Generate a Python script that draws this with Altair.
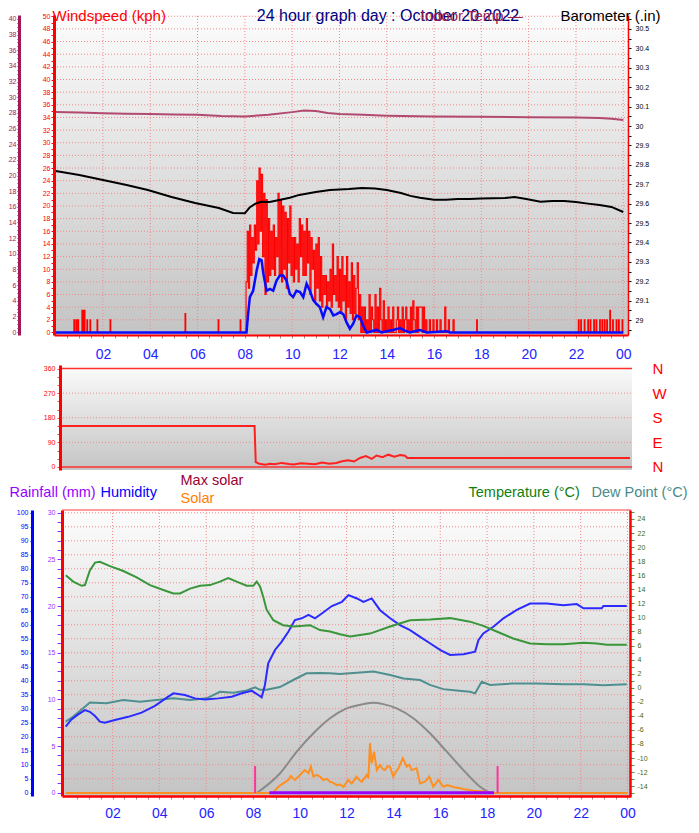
import altair as alt
import pandas as pd

W, H = 683, 815
FONT = "Liberation Sans"

# ---------------- values (hour of day, value) ----------------
baro = [(0, 29.768), (1, 29.747), (2, 29.722), (3, 29.696), (3.9, 29.670), (4.9, 29.634),
        (5.9, 29.603), (6.9, 29.577), (7.5, 29.552), (8.0, 29.55), (8.2, 29.58), (8.45, 29.60),
        (8.7, 29.61), (9.05, 29.608), (9.5, 29.62), (9.9, 29.63), (10.3, 29.645), (11, 29.66),
        (11.6, 29.67), (12.4, 29.675), (12.95, 29.68), (13.5, 29.678), (14, 29.67), (14.6, 29.655),
        (15, 29.64), (15.4, 29.63), (16, 29.62), (16.5, 29.62), (17, 29.624), (17.5, 29.624),
        (18, 29.626), (19, 29.629), (19.4, 29.634), (19.9, 29.624), (20.5, 29.61), (21, 29.613),
        (21.5, 29.613), (22, 29.608), (22.5, 29.60), (23, 29.593), (23.5, 29.583), (24, 29.557)]

indoor = [(0, 28.1), (1, 28.05), (2, 27.95), (3, 27.9), (4, 27.85), (5, 27.8), (6, 27.75),
          (7, 27.6), (8, 27.55), (9, 27.75), (10, 28.1), (10.5, 28.3), (11, 28.25), (11.5, 28.0),
          (12, 27.85), (13, 27.75), (14, 27.65), (16, 27.55), (18, 27.5), (20, 27.45), (22, 27.4),
          (23, 27.35), (23.5, 27.25), (24, 27.1)]

wind_avg = [(0, 0), (8.07, 0), (8.14, 3.0), (8.21, 5.6), (8.35, 6.6), (8.5, 9.8), (8.61, 11.6),
            (8.71, 11.4), (8.78, 9.3), (8.92, 6.6), (9.06, 6.9), (9.2, 6.6), (9.34, 8.2), (9.48, 9.0),
            (9.62, 9.0), (9.76, 8.2), (9.9, 6.1), (10.04, 5.6), (10.18, 6.6), (10.33, 6.4), (10.47, 5.6),
            (10.61, 7.7), (10.75, 6.6), (10.89, 5.1), (11.03, 4.5), (11.17, 4.0), (11.31, 2.4),
            (11.45, 4.0), (11.6, 3.7), (11.74, 2.7), (11.88, 2.9), (12.02, 3.2), (12.16, 2.9),
            (12.3, 1.6), (12.44, 0.6), (12.58, 1.4), (12.72, 2.7), (12.87, 2.4), (13.0, 1.1),
            (13.15, 0), (13.57, 0.4), (13.78, 0), (13.99, 0.2), (14.27, 0.4), (14.56, 0.7),
            (14.77, 0.3), (14.98, 0), (15.4, 0.4), (15.68, 0), (16.53, 0.2), (16.67, 0), (24, 0)]

gust_spikes_early = [(0.77, 2), (0.86, 2), (0.94, 2), (1.11, 3.5), (1.16, 3.5), (1.21, 3.5),
                     (1.32, 2), (1.45, 2), (1.75, 2), (2.3, 2), (5.47, 3), (6.87, 2), (7.8, 2)]
# gusts every 3 minutes from 08:03
gust_burst = [8, 16, 7, 17, 9, 15, 11, 17, 13, 24,
              14, 26, 16, 25, 12, 22, 6, 21, 8, 18,
              9, 16, 10, 17, 9, 15, 12, 22, 9, 21,
              8, 20, 10, 19, 7, 18, 11, 20, 9, 15,
              8, 15, 10, 14, 8, 18, 12, 17, 9, 16,
              9, 18, 11, 16, 6, 15, 10, 13, 5, 14,
              7, 15, 5, 12, 4, 9, 6, 9, 4, 8,
              5, 10, 4, 14, 6, 9, 5, 12, 4, 10,
              3, 12, 5, 9, 2, 12, 4, 8, 3, 11,
              2, 9, 3, 7, 11, 2, 6, 0, 4, 0,
              4, 0, 2, 0, 6, 0, 4, 2, 0, 6,
              0, 4, 0, 7, 2, 0, 5, 0, 2, 0,
              4, 0, 2, 0, 4, 0, 0, 2, 4, 0,
              2, 0, 4, 0, 2, 4, 0, 2, 0, 4,
              0, 5, 2, 0, 4, 0, 4, 4, 4, 0,
              4, 0, 2, 0, 0, 2, 0, 0, 2, 0,
              0, 2, 0, 0, 2, 0, 0, 0, 4, 0,
              0, 2, 0, 0, 0, 2, 0, 0, 0, 0]
gust_burst_start, gust_burst_step = 8.05, 0.05
gust_spikes_late = [(17.8, 2), (22.1, 2), (22.2, 2), (22.35, 2), (22.5, 2), (22.6, 2), (22.75, 2),
                    (22.85, 2), (23.0, 2), (23.1, 2), (23.2, 2), (23.3, 2), (23.43, 3.5), (23.55, 2),
                    (23.7, 2), (23.8, 2), (23.95, 2)]

wind_dir = [(0, 150), (8.15, 150), (8.2, 18), (8.35, 12), (8.6, 8), (8.8, 12), (9.0, 10), (9.3, 15),
            (9.6, 11), (9.8, 9), (10.1, 14), (10.4, 12), (10.7, 10), (11.0, 16), (11.3, 12),
            (11.6, 15), (11.85, 21), (12.1, 25), (12.35, 20), (12.6, 33), (12.85, 40), (13.1, 30),
            (13.3, 42), (13.55, 36), (13.8, 45), (14.05, 38), (14.3, 44), (14.5, 41), (14.6, 33),
            (24, 33)]

temperature = [(0, 16.0), (0.32, 15.1), (0.68, 14.5), (0.82, 14.6), (1.03, 16.7), (1.25, 17.8),
               (1.46, 17.9), (1.89, 17.3), (2.46, 16.6), (3.03, 15.7), (3.6, 14.6), (4.17, 13.9),
               (4.6, 13.4), (4.88, 13.4), (5.31, 14.1), (5.74, 14.5), (6.16, 14.6), (6.59, 15.1),
               (6.94, 15.6), (7.3, 15.1), (7.73, 14.5), (8.01, 14.5), (8.16, 15.1), (8.3, 14.4),
               (8.44, 12.9), (8.58, 11.1), (8.87, 9.6), (9.29, 8.9), (9.72, 8.7), (10.15, 8.8),
               (10.44, 8.9), (10.86, 8.2), (11.29, 8.0), (11.72, 7.6), (12.15, 7.3), (13.0, 7.7),
               (13.86, 8.7), (14.71, 9.6), (15.56, 9.7), (16.42, 9.9), (17.27, 9.4), (17.84, 8.8),
               (18.41, 8.0), (19.12, 7.0), (19.84, 6.3), (20.55, 6.2), (21.26, 6.2), (22.12, 6.4),
               (22.69, 6.3), (23.12, 6.1), (23.97, 6.1)]

dew_point = [(0, -4.8), (0.32, -4.1), (0.82, -2.7), (1.03, -2.1), (1.74, -2.2), (2.46, -1.75),
             (3.17, -2.0), (3.88, -1.75), (4.6, -1.5), (5.31, -1.75), (6.02, -1.5), (6.59, -0.57),
             (7.16, -0.7), (7.73, -0.4), (8.09, 0.05), (8.3, -0.3), (8.58, -0.3), (9.15, 0.1),
             (9.72, 1.1), (10.29, 2.05), (10.86, 2.1), (11.29, 2.05), (11.72, 1.95), (12.15, 2.05),
             (13.15, 2.3), (13.86, 1.8), (14.43, 1.3), (15.14, 1.1), (15.56, 0.4), (16.13, -0.2),
             (16.7, -0.4), (17.27, -0.57), (17.49, -0.8), (17.77, 0.85), (18.13, 0.4), (19.12, 0.6),
             (20.12, 0.6), (21.26, 0.5), (22.12, 0.5), (22.97, 0.35), (23.97, 0.5)]

humidity = [(0, 23.6), (0.22, 26), (0.5, 27.8), (0.82, 29.5), (1.03, 28.9), (1.25, 27.4), (1.46, 25.4),
            (1.67, 25), (2.1, 26), (2.67, 27.1), (3.24, 28.6), (3.81, 31), (4.38, 34.3), (4.6, 35.5),
            (5.09, 34.9), (5.52, 33.7), (5.95, 33.3), (6.52, 33.7), (7.09, 34.3), (7.52, 35.5),
            (7.95, 36.4), (8.23, 34.9), (8.37, 34.1), (8.51, 38.5), (8.65, 46.2), (8.94, 51),
            (9.22, 53.9), (9.51, 57.5), (9.79, 61.7), (10.08, 62.3), (10.37, 63.5), (10.65, 62.3),
            (10.94, 64), (11.37, 66.7), (11.8, 68.2), (12.08, 70.6), (12.44, 69.4), (12.72, 68.2),
            (13.07, 69.4), (13.43, 65.2), (13.86, 62.3), (14.28, 59.9), (14.71, 58.1), (15.14, 55.7),
            (15.56, 53.4), (15.99, 51), (16.42, 49.2), (16.99, 49.5), (17.49, 50.4), (17.63, 54.5),
            (17.84, 56.9), (18.27, 59.3), (18.7, 62.3), (19.27, 65.3), (19.84, 67.6), (20.55, 67.6),
            (21.26, 67), (21.83, 67.4), (22.12, 65.9), (22.9, 65.9), (22.97, 66.7), (23.97, 66.7)]

max_solar = [(8.16, 0), (9.15, 69), (9.87, 146), (10.58, 211), (11.29, 264), (12.0, 299),
             (12.71, 314), (13.14, 319), (13.57, 314), (14.14, 299), (14.85, 264), (15.56, 211),
             (16.28, 146), (16.99, 81), (17.7, 22), (18.13, 0)]

solar = [(0, 0), (8.44, 0), (8.87, 1), (9.08, 22), (9.29, 34), (9.51, 46), (9.61, 60), (9.79, 46),
         (9.94, 58), (10.08, 70), (10.22, 81), (10.37, 70), (10.47, 93), (10.58, 58), (10.72, 64),
         (10.86, 58), (11.0, 46), (11.15, 50), (11.29, 40), (11.45, 35), (11.58, 28), (11.72, 30),
         (11.86, 22), (12.07, 46), (12.22, 34), (12.43, 58), (12.55, 45), (12.65, 40), (12.86, 64),
         (12.93, 52), (13.0, 176), (13.07, 105), (13.17, 146), (13.29, 81), (13.43, 99), (13.54, 85),
         (13.64, 81), (13.75, 95), (13.85, 93), (14.0, 58), (14.1, 75), (14.21, 87), (14.4, 123),
         (14.57, 93), (14.68, 100), (14.78, 81), (14.99, 87), (15.14, 34), (15.35, 40), (15.53, 58),
         (15.7, 22), (15.92, 46), (16.13, 22), (16.3, 28), (16.42, 25), (16.6, 20), (16.85, 17),
         (17.1, 12), (17.42, 8), (17.84, 5), (18.2, 0), (24, 0)]

rainfall = [(8.7, 0), (18.3, 0)]
sun_events = [8.09, 18.45]          # sunrise / sunset markers
sun_marker_top = 95

hour_ticks = [i / 2 for i in range(1, 49)]
baro_ticks = [round(28.95 + 0.05 * i, 2) for i in range(33)]

# ---------------- build tables ----------------
def frame(pairs):
    return pd.DataFrame(list(pairs), columns=["t", "v"])

gust_rows = [(0.0, 0.0)]
for t, v in gust_spikes_early:
    gust_rows += [(t, v), (round(t + 0.03, 3), 0)]
for i, v in enumerate(gust_burst):
    gust_rows.append((round(gust_burst_start + gust_burst_step * i, 3), v))
gust_rows.append((round(gust_burst_start + gust_burst_step * len(gust_burst), 3), 0))
for t, v in gust_spikes_late:
    gust_rows += [(t, v), (round(t + 0.03, 3), 0)]
gust_rows.append((24.0, 0))
gust_df = frame(gust_rows)

# ---------------- scales (each panel has its own position range) ----------------
def lin(d0, d1, r0, r1):
    return alt.Scale(domain=[d0, d1], range=[r0, r1], nice=False, zero=False)

XT_D, XM_D, XB_D = (-0.07, 24.2), (-0.063, 24.084), (-0.16, 24.15)
YW_D, YD_D, YH_D = (-0.4, 50.2), (-11, 373), (-1.18, 101.0)
XT = lin(*XT_D, 46, 620)
XM = lin(*XM_D, 52, 624)
XB = lin(*XB_D, 54, 623)
YW = lin(*YW_D, 327, 7)
YP = lin(28.923, 30.572, 327, 7)
YI = lin(-0.38, 40.51, 327, 7)
YD = lin(*YD_D, 462, 357)
YR = lin(-0.354, 30.3, 788, 502)
YH = lin(*YH_D, 788, 502)
YT = lin(-15.4, 25.28, 788, 502)
YS = lin(-10.6, 1000, 788, 502)

GRAD = alt.Gradient(gradient="linear",
                    stops=[alt.GradientStop(color="#fcfcfc", offset=0),
                           alt.GradientStop(color="#e2e2e2", offset=0.45),
                           alt.GradientStop(color="#c4c4c4", offset=1)],
                    x1=0, x2=0, y1=0, y2=1)
GRID = dict(color="#f08a8a", strokeDash=[1, 2], strokeWidth=1)


def axis(orient, offset, **kw):
    base = dict(orient=orient, offset=offset, grid=False, zindex=2, labelOverlap=False,
                labelFlush=False, labelFont=FONT, labelFontSize=7, title=None)
    base.update(kw)
    return alt.Axis(**base)


def ttl(text, color, x, y, size=15, align="left"):
    return dict(title=text, titleX=x, titleY=y, titleAngle=0, titleAlign=align,
                titleBaseline="alphabetic", titleColor=color, titleFont=FONT,
                titleFontSize=size, titleFontWeight="normal")


HIDDEN = dict(labels=False, ticks=False, domain=False)
EVEN = "datum.value % 2 == 0 ? '' + datum.value : ''"
HOUR_LABEL = ("datum.value % 2 == 0 ? (datum.value % 24 < 10 ? '0' + (datum.value % 24) "
              ": '' + datum.value) : ''")

ax_top_x = axis("bottom", 327 - H, values=hour_ticks, labelExpr=HOUR_LABEL, labelColor="#2323ff",
                labelFontSize=14, labelPadding=9, tickSize=3, tickColor="#909090",
                domainColor="#ff0000", domainWidth=2,
                **ttl("24 hour graph day : October 20 2022", "#000080", 379.5, 12 - 327, 16, "center"))
ax_wind = axis("left", -46, values=list(range(0, 51)), labelExpr=EVEN, labelColor="#ff0000",
               labelPadding=1, tickSize=3, tickColor="#ff0000", domainColor="#ff0000", domainWidth=3,
               **ttl("Windspeed (kph)", "#ff0000", -2, 12))
ax_indoor = axis("left", -11, values=[i / 2 for i in range(0, 81)], labelExpr=EVEN,
                 labelColor="#a01a55", labelPadding=1, tickSize=2, tickColor="#a01a55",
                 domainColor="#a01a55", domainWidth=3,
                 **ttl("Indoor Temp \u2014", "#9c1f4f", 401, 12))
ax_baro = axis("right", 620 - W, values=baro_ticks,
               labelExpr="round(datum.value * 100) % 10 == 0 ? '' + round(datum.value * 10) / 10 : ''",
               labelColor="#000000", labelPadding=4, tickSize=3, tickColor="#000000",
               domainColor="#ff0000", domainWidth=1.5,
               **ttl("Barometer (.in)", "#000000", 552 - 620, 12))
ax_dir = axis("left", -52, values=list(range(0, 361, 30)),
              labelExpr="datum.value % 90 == 0 ? '' + datum.value : ''", labelColor="#ff0000",
              labelPadding=2, tickSize=3, tickColor="#ff4040", domainColor="#ff0000", domainWidth=3)
ax_compass = axis("right", 624 - W, values=[0, 90, 180, 270, 360],
                  labelExpr="['N','E','S','W','N'][round(datum.value / 90)]",
                  labelColor="#ff0000", labelFontSize=15, labelPadding=20, ticks=False, domain=False)
ax_hum = axis("left", -24, values=list(range(0, 101, 5)), labelExpr="'' + datum.value",
              labelColor="#0000ff", labelPadding=2, tickSize=2, tickColor="#0000ff",
              domainColor="#0000ff", domainWidth=3, **ttl("Humidity", "#0000ff", 68, 488, 14.5))
ax_rain = axis("left", -54, values=list(range(0, 31)),
               labelExpr="datum.value % 5 == 0 ? '' + datum.value : ''", labelColor="#9933ff",
               labelPadding=2, tickSize=5, tickColor="#9933ff", domainColor="#ff0000", domainWidth=3,
               **ttl("Rainfall (mm)", "#9900ff", -53, 488, 14.5))
ax_temp = axis("right", 622 - W, values=list(range(-15, 26)), labelExpr=EVEN, labelColor="#3a6a10",
               labelPadding=3, tickSize=4, tickColor="#40a040", domainColor="#ff0000",
               domainWidth=2.5, **ttl("Temperature (\u00b0C)", "#108010", -162, 488, 14.5))
ax_dew = axis("right", 622 - W, **HIDDEN, **ttl("Dew Point (\u00b0C)", "#4a8a8a", -39, 488, 14.5))
ax_maxsolar = axis("left", -54, **HIDDEN, **ttl("Max solar", "#990033", 118, 476, 14.5))
ax_solar = axis("left", -54, **HIDDEN, **ttl("Solar", "#ff8000", 118, 494, 14.5))
ax_bot_x = axis("bottom", 788 - H, values=hour_ticks, labelExpr=HOUR_LABEL, labelColor="#2323ff",
                labelFontSize=14, labelPadding=7, tickSize=3, tickColor="#909090",
                domainColor="#ff0000", domainWidth=2.5)


# ---------------- mark helpers ----------------
def X(scale, ax=None, field="t"):
    return alt.X(f"{field}:Q", scale=scale, axis=ax)


def Y(scale, ax=None, field="v"):
    return alt.Y(f"{field}:Q", scale=scale, axis=ax)


def background(xs, ys, xd, yd):
    df = pd.DataFrame({"x0": [xd[0]], "x1": [xd[1]], "y0": [yd[0]], "y1": [yd[1]]})
    return alt.Chart(df).mark_rect(fill=GRAD).encode(
        x=X(xs, field="x0"), x2="x1", y=Y(ys, field="y0"), y2="y1")


def hrules(xs, ys, values, xd, **style):
    df = pd.DataFrame({"v": values, "x0": xd[0], "x1": xd[1]})
    return alt.Chart(df).mark_rule(**style).encode(y=Y(ys), x=X(xs, field="x0"), x2="x1")


def vrules(xs, ys, values, yd, **style):
    df = pd.DataFrame({"t": values, "y0": yd[0], "y1": yd[1]})
    return alt.Chart(df).mark_rule(**style).encode(x=X(xs), y=Y(ys, field="y0"), y2="y1")


def line(data, xs, ys, xax=None, yax=None, **mark):
    df = data if isinstance(data, pd.DataFrame) else frame(data)
    return alt.Chart(df).mark_line(**mark).encode(x=X(xs, xax), y=Y(ys, yax))


sun_df = pd.DataFrame({"t": sun_events, "y0": 0, "y1": sun_marker_top})

layers = [
    # ---- top panel: wind, indoor temperature, barometer ----
    background(XT, YW, XT_D, YW_D),
    hrules(XT, YW, list(range(2, 51, 2)), XT_D, **GRID),
    vrules(XT, YW, list(range(2, 25, 2)), YW_D, **GRID),
    line(gust_df, XT, YW, ax_top_x, ax_wind, color="#ff0000", strokeWidth=1.1, interpolate="step-after"),
    line(wind_avg, XT, YW, color="#0a0aff", strokeWidth=2.5),
    line(indoor, XT, YI, None, ax_indoor, color="#b24a70", strokeWidth=2),
    line(baro, XT, YP, None, ax_baro, color="#000000", strokeWidth=2),
    # ---- middle panel: wind direction ----
    background(XM, YD, XM_D, YD_D),
    hrules(XM, YD, [90, 180, 270], XM_D, **GRID),
    hrules(XM, YD, [0, 360], XM_D, color="#ff3030", strokeWidth=1.5),
    line(wind_dir, XM, YD, None, ax_dir, color="#ff2020", strokeWidth=2),
    line(wind_dir, XM, YD, None, ax_compass, opacity=0),
    # ---- bottom panel ----
    background(XB, YH, XB_D, YH_D),
    hrules(XB, YH, list(range(5, 101, 5)), XB_D, **GRID),
    vrules(XB, YH, list(range(2, 25, 2)), YH_D, **GRID),
    hrules(XB, YH, [YH_D[1]], XB_D, color="#ff4040", strokeWidth=1),
    line(max_solar, XB, YS, None, ax_maxsolar, color="#8a8a8a", strokeWidth=2, interpolate="monotone"),
    line(solar, XB, YS, None, ax_solar, color="#ff9020", strokeWidth=2),
    alt.Chart(sun_df).mark_rule(color="#ff3399", strokeWidth=2).encode(
        x=X(XB), y=Y(YS, field="y0"), y2="y1"),
    line(rainfall, XB, YR, None, ax_rain, color="#9900ff", strokeWidth=3),
    line(dew_point, XB, YT, None, ax_dew, color="#4f8f8f", strokeWidth=2),
    line(humidity, XB, YH, None, ax_hum, color="#2b2bff", strokeWidth=2),
    line(temperature, XB, YT, ax_bot_x, ax_temp, color="#3a963a", strokeWidth=2),
]

chart = alt.layer(*layers).resolve_scale(x="independent", y="independent").properties(
    width=W, height=H, padding=0, background="white",
    autosize=alt.AutoSizeParams(type="none"),
).configure_view(stroke=None)

chart.save("out.html", embed_options={"renderer": "svg", "actions": False})
